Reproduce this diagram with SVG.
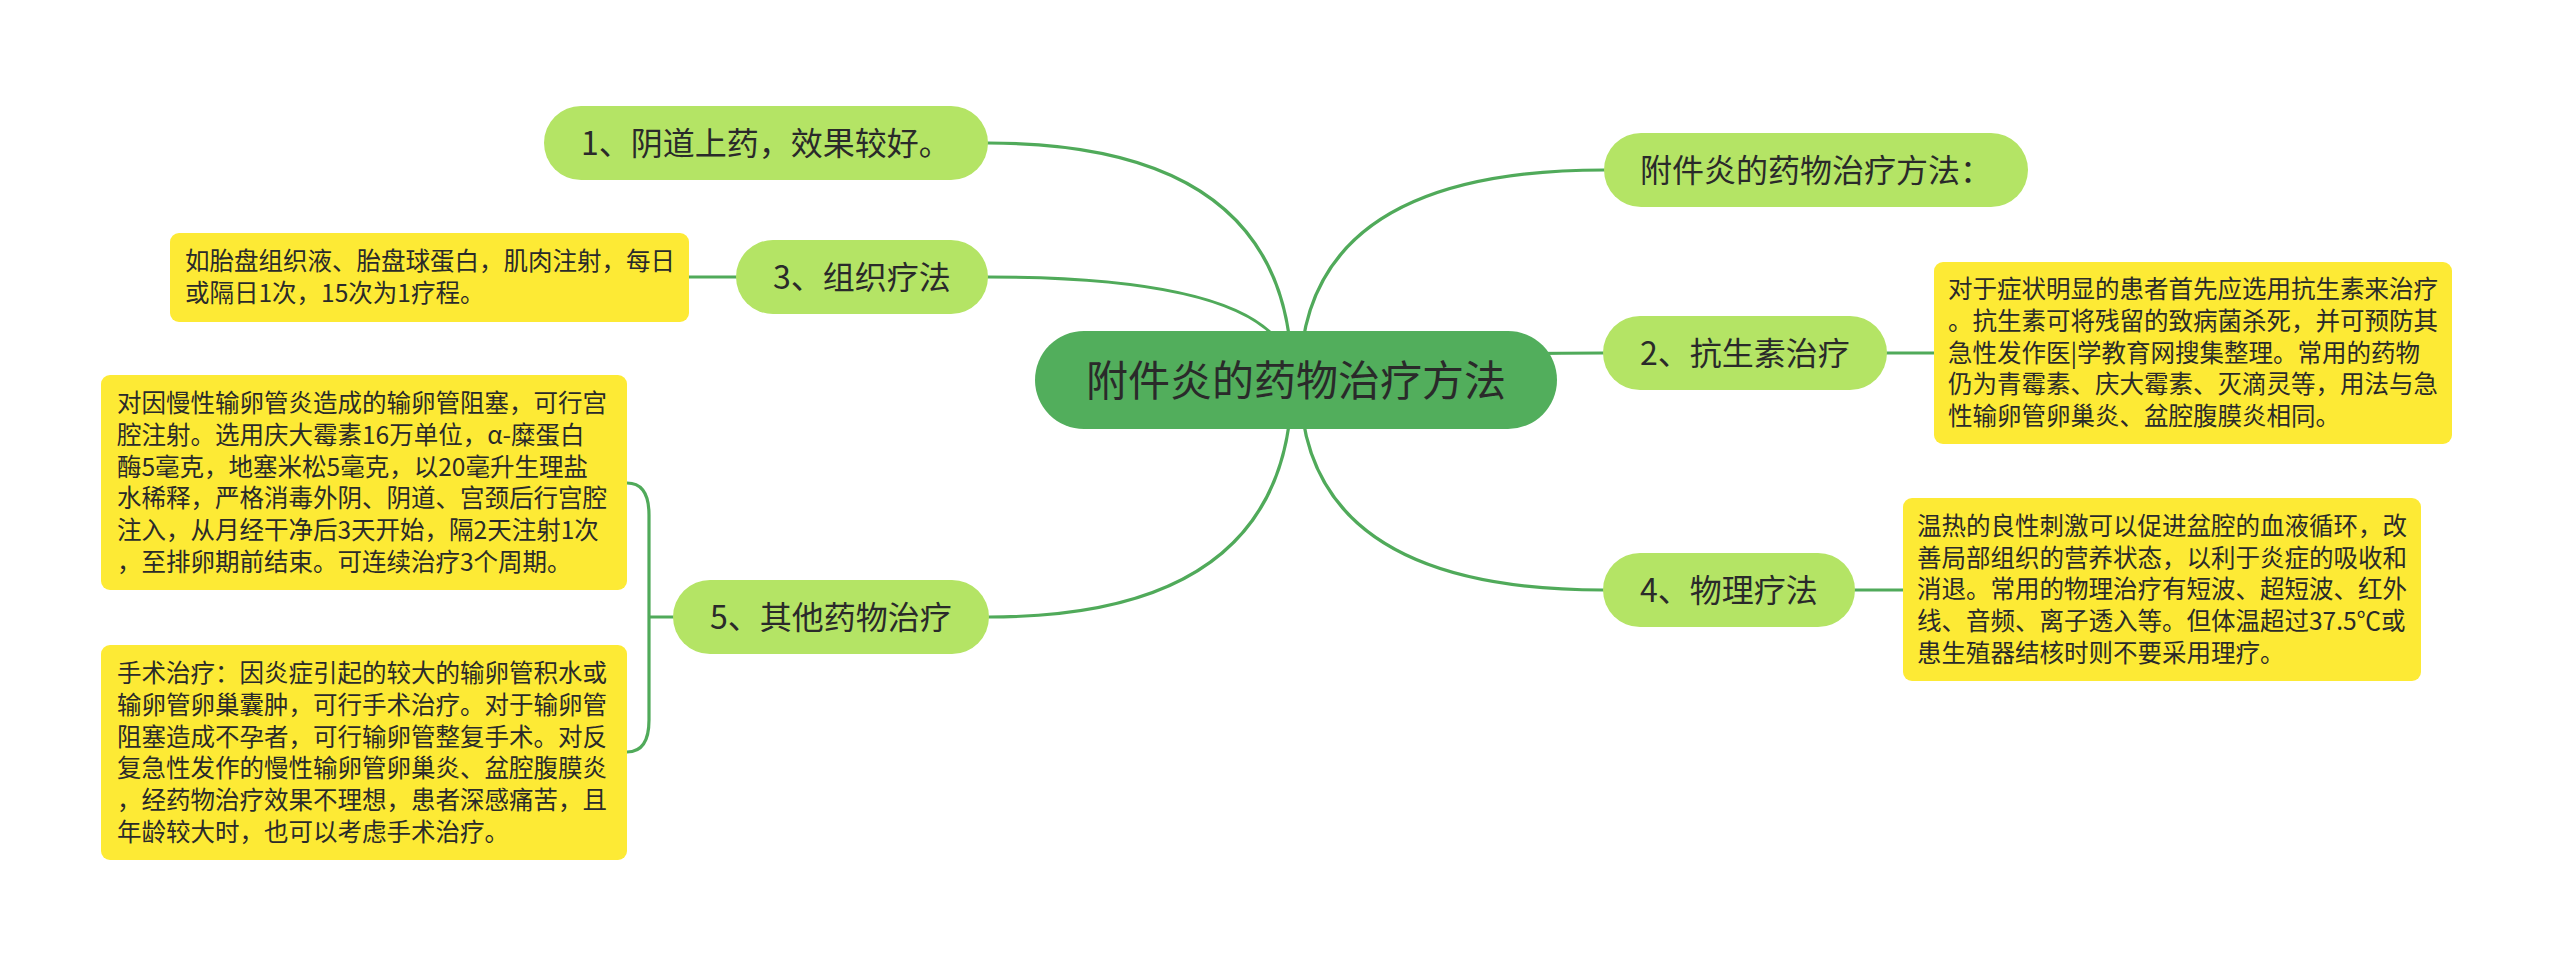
<svg xmlns="http://www.w3.org/2000/svg" width="2560" height="966" viewBox="0 0 2560 966">
<style>
.bg{fill:#ffffff}
.conn{fill:none;stroke:#50aa5a;stroke-width:3.2;stroke-linecap:round}
.root{fill:#52ae5c}
.topic{fill:#b4e465}
.leaf{fill:#fdea35}
.t{font-family:"Noto Sans CJK SC","Noto Sans",sans-serif;fill:#2a2a2a}
.rt{font-size:42px;text-anchor:middle}
.nt{font-size:32px;text-anchor:middle}
.lt{font-size:24.5px}
</style>
<rect class="bg" x="0" y="0" width="2560" height="966"/>
<g id="connectors">
<path class="conn" d="M1292 380 Q1292 143 988 143"/>
<path class="conn" d="M1292 380 Q1292 277 988 277"/>
<path class="conn" d="M1292 380 Q1292 617 989 617"/>
<path class="conn" d="M1300 380 Q1300 170 1604 170"/>
<path class="conn" d="M1300 380 Q1300 353 1603 353"/>
<path class="conn" d="M1300 380 Q1300 590 1603 590"/>
<path class="conn" d="M689 277 L736 277"/>
<path class="conn" d="M1887 353 L1934 353"/>
<path class="conn" d="M1855 590 L1903 590"/>
<path class="conn" d="M673 617 L650 617"/>
<path class="conn" d="M627 483 Q649 483 649 515 L649 720 Q649 752 627 752"/>
</g>
<g id="root">
<rect class="root" x="1035" y="331" width="522" height="98" rx="49"/>
<text class="t rt" x="1296" y="396">附件炎的药物治疗方法</text>
</g>
<g id="node1">
<rect class="topic" x="544" y="106" width="444" height="74" rx="37"/>
<text class="t nt" x="766" y="155">1、阴道上药，效果较好。</text>
</g>
<g id="node3">
<rect class="topic" x="736" y="240" width="252" height="74" rx="37"/>
<text class="t nt" x="862" y="289">3、组织疗法</text>
</g>
<g id="leaf3">
<rect class="leaf" x="170" y="233" width="519" height="89" rx="9"/>
<text class="t lt" x="185"><tspan x="185" y="270">如胎盘组织液、胎盘球蛋白，肌肉注射，每日</tspan><tspan x="185" y="302">或隔日1次，15次为1疗程。</tspan></text>
</g>
<g id="node5">
<rect class="topic" x="673" y="580" width="316" height="74" rx="37"/>
<text class="t nt" x="831" y="629">5、其他药物治疗</text>
</g>
<g id="leaf5a">
<rect class="leaf" x="101" y="375" width="526" height="215" rx="9"/>
<text class="t lt"><tspan x="117" y="412">对因慢性输卵管炎造成的输卵管阻塞，可行宫</tspan><tspan x="117" y="444">腔注射。选用庆大霉素16万单位，α-糜蛋白</tspan><tspan x="117" y="476">酶5毫克，地塞米松5毫克，以20毫升生理盐</tspan><tspan x="117" y="507">水稀释，严格消毒外阴、阴道、宫颈后行宫腔</tspan><tspan x="117" y="539">注入，从月经干净后3天开始，隔2天注射1次</tspan><tspan x="117" y="571">，至排卵期前结束。可连续治疗3个周期。</tspan></text>
</g>
<g id="leaf5b">
<rect class="leaf" x="101" y="645" width="526" height="215" rx="9"/>
<text class="t lt"><tspan x="117" y="682">手术治疗：因炎症引起的较大的输卵管积水或</tspan><tspan x="117" y="714">输卵管卵巢囊肿，可行手术治疗。对于输卵管</tspan><tspan x="117" y="746">阻塞造成不孕者，可行输卵管整复手术。对反</tspan><tspan x="117" y="777">复急性发作的慢性输卵管卵巢炎、盆腔腹膜炎</tspan><tspan x="117" y="809">，经药物治疗效果不理想，患者深感痛苦，且</tspan><tspan x="117" y="841">年龄较大时，也可以考虑手术治疗。</tspan></text>
</g>
<g id="nodeR">
<rect class="topic" x="1604" y="133" width="424" height="74" rx="37"/>
<text class="t nt" x="1816" y="182">附件炎的药物治疗方法：</text>
</g>
<g id="node2">
<rect class="topic" x="1603" y="316" width="284" height="74" rx="37"/>
<text class="t nt" x="1745" y="365">2、抗生素治疗</text>
</g>
<g id="leaf2">
<rect class="leaf" x="1934" y="262" width="518" height="182" rx="9"/>
<text class="t lt"><tspan x="1948" y="298">对于症状明显的患者首先应选用抗生素来治疗</tspan><tspan x="1948" y="330">。抗生素可将残留的致病菌杀死，并可预防其</tspan><tspan x="1948" y="362">急性发作医|学教育网搜集整理。常用的药物</tspan><tspan x="1948" y="393">仍为青霉素、庆大霉素、灭滴灵等，用法与急</tspan><tspan x="1948" y="425">性输卵管卵巢炎、盆腔腹膜炎相同。</tspan></text>
</g>
<g id="node4">
<rect class="topic" x="1603" y="553" width="252" height="74" rx="37"/>
<text class="t nt" x="1729" y="602">4、物理疗法</text>
</g>
<g id="leaf4">
<rect class="leaf" x="1903" y="498" width="518" height="183" rx="9"/>
<text class="t lt"><tspan x="1917" y="535">温热的良性刺激可以促进盆腔的血液循环，改</tspan><tspan x="1917" y="567">善局部组织的营养状态，以利于炎症的吸收和</tspan><tspan x="1917" y="598">消退。常用的物理治疗有短波、超短波、红外</tspan><tspan x="1917" y="630">线、音频、离子透入等。但体温超过37.5℃或</tspan><tspan x="1917" y="662">患生殖器结核时则不要采用理疗。</tspan></text>
</g>
</svg>
